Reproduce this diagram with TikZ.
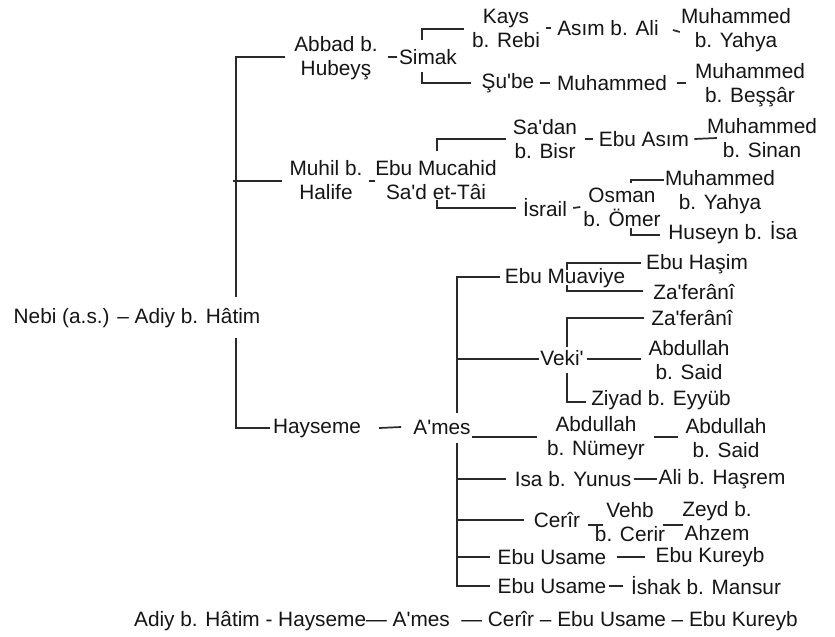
\documentclass[tikz,border=0pt]{standalone}
\usepackage{fontspec}
\setmainfont{Liberation Sans}[Ligatures=TeXOff]
\usetikzlibrary{calc}
\definecolor{txt}{HTML}{151515}
\definecolor{lncol}{HTML}{2A2A2A}
\begin{document}
\begin{tikzpicture}[x=0.75pt,y=-0.75pt,
  lbl/.style={font=\fontsize{15.6}{18}\selectfont, inner sep=0pt, align=center, text=txt},
  conn/.style={draw=lncol, line width=1.3pt}]
\path[use as bounding box, fill=white] (0,0) rectangle (835,636);

% nodes
\node[lbl] (nebi) at (137,318) {Nebi (a.s.) – Adiy b. Hâtim};
\node[lbl] (abbad) at (336,58) {Abbad b.\\Hubeyş};
\node[lbl] (simak) at (428,57) {Simak};
\node[lbl] (kays) at (506,28) {Kays\\b. Rebi};
\node[lbl] (asim) at (608,28) {Asım b. Ali};
\node[lbl] (muhYa) at (736,30) {Muhammed\\b. Yahya};
\node[lbl] (sube) at (508,83) {Şu'be};
\node[lbl] (muhA) at (612,83) {Muhammed};
\node[lbl] (muhB) at (750,85) {Muhammed\\b. Beşşâr};
\node[lbl] (muhil) at (326,180) {Muhil b.\\Halife};
\node[lbl] (mucahid) at (436,180) {Ebu Mucahid\\Sa'd et-Tâi};
\node[lbl] (sadan) at (545,139) {Sa'dan\\b. Bisr};
\node[lbl] (ebuasim) at (644,139) {Ebu Asım};
\node[lbl] (muhS) at (762,138) {Muhammed\\b. Sinan};
\node[lbl] (israil) at (545,208) {İsrail};
\node[lbl] (osman) at (622,207) {Osman\\b. Ömer};
\node[lbl] (muhYb) at (720,192) {Muhammed\\b. Yahya};
\node[lbl] (huseyn) at (733,233) {Huseyn b. İsa};
\node[lbl] (hayseme) at (317,428) {Hayseme};
\node[lbl] (ames) at (442,427) {A'mes};
\node[lbl] (muav) at (565,278) {Ebu Muaviye};
\node[lbl] (ebuhasim) at (697,264) {Ebu Haşim};
\node[lbl] (zaf1) at (694,292) {Za'ferânî};
\node[lbl] (veki) at (562,358) {Veki'};
\node[lbl] (zaf2) at (692,318) {Za'ferânî};
\node[lbl] (abd1) at (689,360) {Abdullah\\b. Said};
\node[lbl] (ziyad) at (661,400) {Ziyad b. Eyyüb};
\node[lbl] (abdN) at (596,438) {Abdullah\\b. Nümeyr};
\node[lbl] (abdS) at (726,438) {Abdullah\\b. Said};
\node[lbl] (isa) at (573,479) {Isa b. Yunus};
\node[lbl] (ali) at (722,479) {Ali b. Haşrem};
\node[lbl] (cerir) at (557,520) {Cerîr};
\node[lbl] (vehb) at (630,522) {Vehb\\b. Cerir};
\node[lbl] (zeyd) at (717,521) {Zeyd b.\\Ahzem};
\node[lbl] (ebuus1) at (552,557) {Ebu Usame};
\node[lbl] (kureyb) at (710,557) {Ebu Kureyb};
\node[lbl] (ebuus2) at (552,586) {Ebu Usame};
\node[lbl] (ishak) at (706,586) {İshak b. Mansur};
\node[lbl] (bottom) at (466,621) {Adiy b. Hâtim - Hayseme— A'mes \ — Cerîr – Ebu Usame – Ebu Kureyb};

% main trunk
\coordinate (up) at (236,297);
\coordinate (dn) at (236,338);
\draw[conn] ($(abbad.west)+(-9,-1)$) -| (up);
\draw[conn] ($(muhil.west)+(-7,1)$) -- ($(muhil.west)+(-56,1)$);
\draw[conn] (dn) |- ($(hayseme.west)+(-3,0)$);

% Abbad branch
\draw[conn] ($(abbad.east)+(10,-1)$) -- ($(simak.west)+(-2,0)$);
\draw[conn] ($(simak)+(-6,-17)$) |- ($(kays.west)+(-8,1)$);
\draw[conn] ($(simak)+(-6,15)$) |- ($(sube.west)+(-10,0)$);
\draw[conn] ($(kays.east)+(6,0)$) -- ($(asim.west)+(-6,0)$);
\draw[conn] ($(asim.east)+(14,2)$) -- ($(muhYa.west)+(-1,2)$);
\draw[conn] ($(sube.east)+(5,0)$) -- ($(muhA.west)+(-7,0)$);
\draw[conn] ($(muhA.east)+(10,0)$) -- ($(muhB.west)+(-9,-2)$);

% Muhil branch
\draw[conn] ($(muhil.east)+(6,1)$) -- ($(mucahid.west)+(0,1)$);
\draw[conn] ($(mucahid)+(1,-29)$) |- ($(sadan.west)+(-7,0)$);
\draw[conn] ($(mucahid)+(1,20)$) |- ($(israil.west)+(-7,0)$);
\draw[conn] ($(sadan.east)+(8,0)$) -- ($(ebuasim.west)+(-6,0)$);
\draw[conn] ($(ebuasim.east)+(5,0)$) -- ($(muhS.west)+(10,0)$);
\draw[conn] ($(israil.east)+(6,0)$) -- ($(osman.west)+(-3,0)$);
\draw[conn] ($(osman)+(9,-24)$) |- ($(muhYb.west)+(-1,-12)$);
\draw[conn] ($(osman)+(9,21)$) |- ($(huseyn.west)+(-8,2)$);

% Hayseme branch
\draw[conn] ($(hayseme.east)+(18,0)$) -- ($(ames.west)+(-12,0)$);
\coordinate (at) at ($(ames)+(15,0)$);
\draw[conn] ($(ames)+(15,-14)$) |- ($(muav.west)+(-5,-1)$);
\draw[conn] ($(ames)+(15,16)$) |- ($(ebuus2.west)+(-7,0)$);
\draw[conn] ($(veki.west)+(-1,1)$) -- ($(veki.west -| at)+(0,1)$);
\draw[conn] ($(isa.west)+(-9,0)$) -- (isa.west -| at);
\draw[conn] ($(cerir.west)+(-10,0)$) -- (cerir.west -| at);
\draw[conn] ($(ebuus1.west)+(-7,0)$) -- (ebuus1.west -| at);

% Ebu Muaviye
\draw[conn] ($(muav)+(2,-8)$) |- ($(ebuhasim.west)+(-5,-1)$);
\draw[conn] ($(muav)+(2,7)$) |- ($(zaf1.west)+(-10,-1)$);

% Veki'
\draw[conn] ($(veki)+(5,-11)$) |- ($(zaf2.west)+(-7,0)$);
\draw[conn] ($(veki)+(5,15)$) |- ($(ziyad.west)+(-5,2)$);
\draw[conn] ($(veki.east)+(3,1)$) -- ($(abd1.west)+(-7,-1)$);

% A'mes row
\draw[conn] ($(ames.east)+(1,10)$) -- ($(abdN.west)+(-10,-1)$);
\draw[conn] ($(abdN.east)+(9,-1)$) -- ($(abdS.west)+(-7,-1)$);

% other rows
\draw[conn] ($(isa.east)+(3,0)$) -- ($(ali.west)+(-1,0)$);
\draw[conn] ($(cerir.east)+(8,5)$) -- ($(vehb.west)+(8,3)$);
\draw[conn] ($(vehb.east)+(-2,3)$) -- ($(zeyd.west)+(1,4)$);
\draw[conn] ($(ebuus1.east)+(10,0)$) -- ($(kureyb.west)+(-10,0)$);
\draw[conn] ($(ebuus2.east)+(2,0)$) -- ($(ishak.west)+(-8,0)$);
\end{tikzpicture}
\end{document}
